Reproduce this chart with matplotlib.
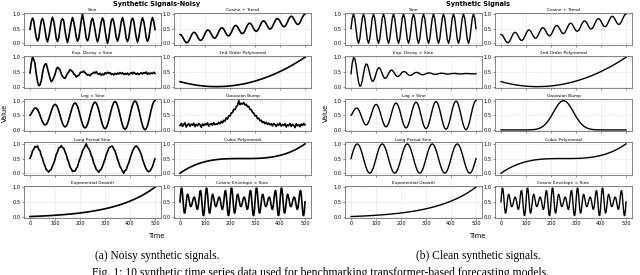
import numpy as np
import matplotlib.pyplot as plt

# ---------------- DATA ----------------
TIME_FINE = np.arange(0, 501, 5)        # 101 samples
TIME_COARSE = np.arange(0, 501, 10)     # 51 samples
TIME_DENSE = np.arange(0, 500.1, 2.5)   # 201 samples

SINE_CLEAN = [
    0.5, 0.854, 1.0, 0.854, 0.5, 0.146, 0.0, 0.146,
    0.5, 0.854, 1.0, 0.854, 0.5, 0.146, 0.0, 0.146,
    0.5, 0.854, 1.0, 0.854, 0.5, 0.146, 0.0, 0.146,
    0.5, 0.854, 1.0, 0.854, 0.5, 0.146, 0.0, 0.146,
    0.5, 0.854, 1.0, 0.854, 0.5, 0.146, 0.0, 0.146,
    0.5, 0.854, 1.0, 0.854, 0.5, 0.146, 0.0, 0.146,
    0.5, 0.854, 1.0, 0.854, 0.5, 0.146, 0.0, 0.146,
    0.5, 0.854, 1.0, 0.854, 0.5, 0.146, 0.0, 0.146,
    0.5, 0.854, 1.0, 0.854, 0.5, 0.146, 0.0, 0.146,
    0.5, 0.854, 1.0, 0.854, 0.5, 0.146, 0.0, 0.146,
    0.5, 0.854, 1.0, 0.854, 0.5, 0.146, 0.0, 0.146,
    0.5, 0.854, 1.0, 0.854, 0.5, 0.146, 0.0, 0.146,
    0.5, 0.854, 1.0, 0.854, 0.5,
]
SINE_NOISY = [
    0.48, 0.73, 0.86, 0.77, 0.45, 0.20, 0.08, 0.17,
    0.49, 0.76, 0.85, 0.72, 0.46, 0.18, 0.05, 0.21,
    0.46, 0.74, 0.89, 0.74, 0.48, 0.16, 0.06, 0.18,
    0.50, 0.77, 0.84, 0.76, 0.44, 0.19, 0.03, 0.20,
    0.47, 0.72, 0.88, 0.73, 0.49, 0.21, 0.07, 0.16,
    0.45, 0.78, 1.00, 0.75, 0.47, 0.17, 0.08, 0.19,
    0.48, 0.75, 0.86, 0.71, 0.46, 0.20, 0.05, 0.18,
    0.47, 0.73, 0.87, 0.77, 0.45, 0.18, 0.00, 0.17,
    0.49, 0.76, 0.85, 0.74, 0.48, 0.19, 0.07, 0.21,
    0.44, 0.74, 0.88, 0.72, 0.47, 0.16, 0.06, 0.18,
    0.48, 0.77, 0.86, 0.76, 0.46, 0.20, 0.04, 0.19,
    0.47, 0.72, 0.87, 0.75, 0.49, 0.18, 0.07, 0.17,
    0.46, 0.75, 0.88, 0.74, 0.47,
]
COS_TREND = [
    0.300, 0.282, 0.222, 0.141, 0.066, 0.023, 0.027, 0.079, 0.166, 0.262,
    0.339, 0.377, 0.364, 0.308, 0.228, 0.151, 0.103, 0.102, 0.149, 0.233,
    0.329, 0.410, 0.453, 0.446, 0.394, 0.315, 0.236, 0.184, 0.177, 0.220,
    0.301, 0.397, 0.481, 0.528, 0.527, 0.479, 0.402, 0.322, 0.266, 0.253,
    0.291, 0.368, 0.464, 0.551, 0.603, 0.607, 0.564, 0.489, 0.408, 0.348,
    0.330, 0.362, 0.436, 0.531, 0.620, 0.677, 0.687, 0.649, 0.576, 0.494,
    0.431, 0.407, 0.434, 0.504, 0.598, 0.689, 0.751, 0.766, 0.733, 0.663,
    0.581, 0.514, 0.485, 0.506, 0.572, 0.665, 0.758, 0.824, 0.845, 0.816,
    0.749, 0.667, 0.597, 0.564, 0.579, 0.641, 0.732, 0.826, 0.896, 0.923,
    0.899, 0.836, 0.754, 0.681, 0.643, 0.653, 0.710, 0.799, 0.894, 0.968,
    1.000,
]
EXP_DECAY_CLEAN = [
    0.440, 0.795, 0.987, 0.960, 0.746, 0.440, 0.163, 0.014, 0.036, 0.202,
    0.440, 0.655, 0.772, 0.755, 0.626, 0.440, 0.272, 0.182, 0.195, 0.295,
    0.440, 0.571, 0.641, 0.631, 0.552, 0.440, 0.338, 0.284, 0.291, 0.352,
    0.440, 0.519, 0.562, 0.556, 0.508, 0.440, 0.378, 0.345, 0.350, 0.387,
    0.440, 0.488, 0.513, 0.510, 0.481, 0.440, 0.402, 0.383, 0.385, 0.408,
    0.440, 0.469, 0.485, 0.483, 0.465, 0.440, 0.417, 0.405, 0.407, 0.421,
    0.440, 0.458, 0.468, 0.466, 0.455, 0.440, 0.426, 0.419, 0.420, 0.428,
    0.440, 0.451, 0.456, 0.456, 0.449, 0.440, 0.432, 0.427, 0.428, 0.433,
    0.440, 0.446, 0.450, 0.450, 0.446, 0.440, 0.435, 0.432, 0.432, 0.435,
    0.440, 0.444, 0.447, 0.447, 0.444, 0.440, 0.437, 0.435, 0.435, 0.437,
    0.440,
]
EXP_DECAY_NOISY = [
    0.47, 0.80, 1.00, 0.93, 0.77, 0.43, 0.18, 0.03, 0.06, 0.19,
    0.46, 0.67, 0.76, 0.78, 0.61, 0.45, 0.29, 0.17, 0.21, 0.31,
    0.42, 0.58, 0.66, 0.62, 0.57, 0.43, 0.35, 0.30, 0.28, 0.37,
    0.45, 0.50, 0.58, 0.54, 0.52, 0.43, 0.40, 0.33, 0.37, 0.38,
    0.46, 0.50, 0.49, 0.53, 0.47, 0.44, 0.39, 0.41, 0.37, 0.43,
    0.45, 0.49, 0.46, 0.51, 0.44, 0.42, 0.45, 0.39, 0.43, 0.40,
    0.47, 0.44, 0.49, 0.45, 0.48, 0.41, 0.44, 0.40, 0.45, 0.42,
    0.46, 0.43, 0.48, 0.44, 0.47, 0.41, 0.45, 0.42, 0.46, 0.40,
    0.44, 0.48, 0.43, 0.49, 0.45, 0.42, 0.46, 0.41, 0.44, 0.47,
    0.43, 0.48, 0.45, 0.50, 0.42, 0.46, 0.43, 0.47, 0.44, 0.49,
    0.45,
]
POLY2 = [
    0.170, 0.148, 0.127, 0.107, 0.090, 0.074, 0.059, 0.046, 0.035, 0.025,
    0.017, 0.010, 0.005, 0.002, 0.000, 0.000, 0.002, 0.005, 0.009, 0.015,
    0.023, 0.033, 0.044, 0.056, 0.071, 0.086, 0.104, 0.123, 0.143, 0.165,
    0.189, 0.215, 0.242, 0.270, 0.300, 0.332, 0.365, 0.400, 0.437, 0.475,
    0.515, 0.556, 0.599, 0.644, 0.690, 0.737, 0.787, 0.838, 0.890, 0.944,
    1.000,
]
LOG_SINE = [
    0.500, 0.555, 0.636, 0.706, 0.745, 0.742, 0.695, 0.610, 0.500, 0.382,
    0.277, 0.201, 0.169, 0.189, 0.257, 0.367, 0.500, 0.637, 0.757, 0.839,
    0.871, 0.847, 0.768, 0.646, 0.500, 0.351, 0.223, 0.135, 0.102, 0.129,
    0.214, 0.345, 0.500, 0.657, 0.793, 0.884, 0.918, 0.888, 0.798, 0.663,
    0.500, 0.336, 0.196, 0.101, 0.066, 0.097, 0.190, 0.332, 0.500, 0.670,
    0.814, 0.912, 0.948, 0.915, 0.819, 0.673, 0.500, 0.326, 0.178, 0.077,
    0.041, 0.075, 0.173, 0.323, 0.500, 0.678, 0.830, 0.932, 0.969, 0.934,
    0.833, 0.681, 0.500, 0.318, 0.163, 0.059, 0.022, 0.057, 0.161, 0.316,
    0.500, 0.685, 0.842, 0.948, 0.986, 0.950, 0.845, 0.687, 0.500, 0.312,
    0.152, 0.045, 0.007, 0.044, 0.150, 0.310, 0.500, 0.691, 0.852, 0.961,
    1.000,
]
GAUSS_CLEAN = [
    0.000, 0.000, 0.000, 0.000, 0.000, 0.000, 0.000, 0.000, 0.000, 0.000,
    0.001, 0.002, 0.005, 0.011, 0.023, 0.044, 0.080, 0.135, 0.216, 0.325,
    0.458, 0.607, 0.755, 0.882, 0.969, 1.000, 0.969, 0.882, 0.755, 0.607,
    0.458, 0.325, 0.216, 0.135, 0.080, 0.044, 0.023, 0.011, 0.005, 0.002,
    0.001, 0.000, 0.000, 0.000, 0.000, 0.000, 0.000, 0.000, 0.000, 0.000,
    0.000,
]
GAUSS_NOISY = [
    0.15, 0.22, 0.12, 0.19, 0.24, 0.10, 0.17, 0.21, 0.13, 0.20,
    0.16, 0.23, 0.11, 0.19, 0.14, 0.22, 0.18, 0.09, 0.20, 0.15,
    0.21, 0.17, 0.24, 0.13, 0.19, 0.22, 0.16, 0.25, 0.18, 0.21,
    0.19, 0.26, 0.21, 0.29, 0.24, 0.33, 0.30, 0.41, 0.37, 0.49,
    0.47, 0.58, 0.59, 0.70, 0.69, 0.79, 0.83, 1.00, 0.86, 0.91,
    0.88, 0.93, 0.85, 0.87, 0.79, 0.80, 0.70, 0.69, 0.60, 0.57,
    0.48, 0.49, 0.38, 0.40, 0.31, 0.33, 0.25, 0.28, 0.21, 0.26,
    0.19, 0.23, 0.17, 0.21, 0.14, 0.22, 0.18, 0.12, 0.20, 0.16,
    0.23, 0.13, 0.19, 0.15, 0.21, 0.10, 0.18, 0.14, 0.22, 0.12,
    0.19, 0.16, 0.08, 0.21, 0.14, 0.18, 0.11, 0.20, 0.15, 0.22,
    0.17,
]
LONG_SINE_CLEAN = [
    0.5, 0.655, 0.794, 0.905, 0.976, 1.0, 0.976, 0.905, 0.794, 0.655,
    0.5, 0.345, 0.206, 0.095, 0.024, 0.0, 0.024, 0.095, 0.206, 0.345,
    0.5, 0.655, 0.794, 0.905, 0.976, 1.0, 0.976, 0.905, 0.794, 0.655,
    0.5, 0.345, 0.206, 0.095, 0.024, 0.0, 0.024, 0.095, 0.206, 0.345,
    0.5, 0.655, 0.794, 0.905, 0.976, 1.0, 0.976, 0.905, 0.794, 0.655,
    0.5, 0.345, 0.206, 0.095, 0.024, 0.0, 0.024, 0.095, 0.206, 0.345,
    0.5, 0.655, 0.794, 0.905, 0.976, 1.0, 0.976, 0.905, 0.794, 0.655,
    0.5, 0.345, 0.206, 0.095, 0.024, 0.0, 0.024, 0.095, 0.206, 0.345,
    0.5, 0.655, 0.794, 0.905, 0.976, 1.0, 0.976, 0.905, 0.794, 0.655,
    0.5, 0.345, 0.206, 0.095, 0.024, 0.0, 0.024, 0.095, 0.206, 0.345,
    0.5,
]
LONG_SINE_NOISY = [
    0.51, 0.60, 0.76, 0.82, 0.91, 0.89, 0.93, 0.81, 0.76, 0.60,
    0.50, 0.34, 0.25, 0.12, 0.09, 0.04, 0.10, 0.13, 0.25, 0.34,
    0.47, 0.64, 0.72, 0.86, 0.88, 0.94, 0.87, 0.85, 0.73, 0.64,
    0.47, 0.37, 0.22, 0.15, 0.06, 0.08, 0.07, 0.16, 0.22, 0.38,
    0.50, 0.61, 0.77, 0.83, 0.92, 1.00, 0.88, 0.84, 0.75, 0.61,
    0.51, 0.34, 0.25, 0.13, 0.09, 0.03, 0.10, 0.14, 0.24, 0.36,
    0.48, 0.63, 0.73, 0.85, 0.89, 0.91, 0.92, 0.82, 0.76, 0.62,
    0.49, 0.36, 0.23, 0.16, 0.07, 0.00, 0.09, 0.12, 0.25, 0.35,
    0.50, 0.62, 0.75, 0.84, 0.90, 0.93, 0.89, 0.83, 0.74, 0.64,
    0.48, 0.35, 0.24, 0.14, 0.08, 0.05, 0.08, 0.15, 0.23, 0.37,
    0.49,
]
CUBIC = [
    0.000, 0.058, 0.111, 0.159, 0.204, 0.244, 0.281, 0.313, 0.343, 0.369,
    0.392, 0.412, 0.430, 0.445, 0.457, 0.468, 0.477, 0.484, 0.489, 0.493,
    0.496, 0.498, 0.499, 0.500, 0.500, 0.500, 0.500, 0.500, 0.501, 0.502,
    0.504, 0.507, 0.511, 0.516, 0.523, 0.532, 0.543, 0.555, 0.570, 0.588,
    0.608, 0.631, 0.657, 0.687, 0.719, 0.756, 0.796, 0.841, 0.889, 0.942,
    1.000,
]
EXP_GROWTH = [
    0.000, 0.003, 0.007, 0.010, 0.014, 0.018, 0.023, 0.027, 0.032, 0.037,
    0.043, 0.049, 0.055, 0.062, 0.069, 0.076, 0.084, 0.093, 0.102, 0.111,
    0.121, 0.132, 0.143, 0.155, 0.168, 0.182, 0.196, 0.212, 0.228, 0.245,
    0.264, 0.284, 0.304, 0.326, 0.350, 0.375, 0.401, 0.430, 0.459, 0.491,
    0.525, 0.561, 0.599, 0.639, 0.682, 0.727, 0.776, 0.827, 0.882, 0.940,
    1.000,
]
COS_ENV = [
    0.500, 0.793, 0.967, 0.957, 0.774, 0.500, 0.248, 0.115, 0.140, 0.293,
    0.500, 0.675, 0.758, 0.733, 0.631, 0.500, 0.392, 0.339, 0.349, 0.411,
    0.500, 0.589, 0.651, 0.661, 0.608, 0.500, 0.369, 0.267, 0.242, 0.325,
    0.500, 0.707, 0.860, 0.885, 0.752, 0.500, 0.226, 0.043, 0.033, 0.207,
    0.500, 0.793, 0.967, 0.957, 0.774, 0.500, 0.248, 0.115, 0.140, 0.293,
    0.500, 0.675, 0.758, 0.733, 0.631, 0.500, 0.392, 0.339, 0.349, 0.411,
    0.500, 0.589, 0.651, 0.661, 0.608, 0.500, 0.369, 0.267, 0.242, 0.325,
    0.500, 0.707, 0.860, 0.885, 0.752, 0.500, 0.226, 0.043, 0.033, 0.207,
    0.500, 0.793, 0.967, 0.957, 0.774, 0.500, 0.248, 0.115, 0.140, 0.293,
    0.500, 0.675, 0.758, 0.733, 0.631, 0.500, 0.392, 0.339, 0.349, 0.411,
    0.500, 0.589, 0.651, 0.661, 0.608, 0.500, 0.369, 0.267, 0.242, 0.325,
    0.500, 0.707, 0.860, 0.885, 0.752, 0.500, 0.226, 0.043, 0.033, 0.207,
    0.500, 0.793, 0.967, 0.957, 0.774, 0.500, 0.248, 0.115, 0.140, 0.293,
    0.500, 0.675, 0.758, 0.733, 0.631, 0.500, 0.392, 0.339, 0.349, 0.411,
    0.500, 0.589, 0.651, 0.661, 0.608, 0.500, 0.369, 0.267, 0.242, 0.325,
    0.500, 0.707, 0.860, 0.885, 0.752, 0.500, 0.226, 0.043, 0.033, 0.207,
    0.500, 0.793, 0.967, 0.957, 0.774, 0.500, 0.248, 0.115, 0.140, 0.293,
    0.500, 0.675, 0.758, 0.733, 0.631, 0.500, 0.392, 0.339, 0.349, 0.411,
    0.500, 0.589, 0.651, 0.661, 0.608, 0.500, 0.369, 0.267, 0.242, 0.325,
    0.500, 0.707, 0.860, 0.885, 0.752, 0.500, 0.226, 0.043, 0.033, 0.207,
    0.500,
]

TITLES = [
    "Sine", "Cosine + Trend",
    "Exp. Decay \u00d7 Sine", "2nd Order Polynomial",
    "Log \u00d7 Sine", "Gaussian Bump",
    "Long Period Sine", "Cubic Polynomial",
    "Exponential Growth", "Cosine Envelope \u00d7 Sine",
]
NOISY_SERIES = [
    (TIME_FINE, SINE_NOISY), (TIME_FINE, COS_TREND),
    (TIME_FINE, EXP_DECAY_NOISY), (TIME_COARSE, POLY2),
    (TIME_FINE, LOG_SINE), (TIME_FINE, GAUSS_NOISY),
    (TIME_FINE, LONG_SINE_NOISY), (TIME_COARSE, CUBIC),
    (TIME_COARSE, EXP_GROWTH), (TIME_DENSE, COS_ENV),
]
CLEAN_SERIES = [
    (TIME_FINE, SINE_CLEAN), (TIME_FINE, COS_TREND),
    (TIME_FINE, EXP_DECAY_CLEAN), (TIME_COARSE, POLY2),
    (TIME_FINE, LOG_SINE), (TIME_COARSE, GAUSS_CLEAN),
    (TIME_FINE, LONG_SINE_CLEAN), (TIME_COARSE, CUBIC),
    (TIME_COARSE, EXP_GROWTH), (TIME_DENSE, COS_ENV),
]

# ---------------- LAYOUT (pixels) ----------------
FIG_W, FIG_H = 640, 275
AX_W, AX_H = 137.5, 32.3
ROW_TOP = 12.5
ROW_STEP = 43.3

SANS = "DejaVu Sans"
SERIF = "Liberation Serif"


def px_rect(left, top, w, h):
    return [left / FIG_W, 1 - (top + h) / FIG_H, w / FIG_W, h / FIG_H]


def draw_group(fig, x0, series, suptitle, caption, lw):
    col_left = [x0 + 23.75, x0 + 173.75]
    for i, (t, y) in enumerate(series):
        row, col = divmod(i, 2)
        ax = fig.add_axes(px_rect(col_left[col], ROW_TOP + row * ROW_STEP, AX_W, AX_H))
        ax.plot(t, y, color="black", lw=lw)
        ax.set_ylim(-0.05, 1.05)
        ax.set_xlim(-25, 525)
        ax.set_yticks([0.0, 0.5, 1.0])
        ax.set_xticks([0, 100, 200, 300, 400, 500])
        ax.grid(True, color="#d9d9d9", lw=0.4, ls="--")
        ax.set_axisbelow(True)
        for s in ax.spines.values():
            s.set_color("#707070")
            s.set_linewidth(0.6)
        ax.tick_params(labelsize=3.6, length=1.5, width=0.4, pad=1,
                       colors="#333333", labelcolor="black")
        if row < 4:
            ax.tick_params(labelbottom=False)
        ax.set_title(TITLES[i], fontsize=3.2, pad=1.3, family=SANS)

    cx = x0 + 157
    fig.text(cx / FIG_W, 1 - 4 / FIG_H, suptitle, ha="center", va="center",
             fontsize=4.7, fontweight="bold", family=SANS)
    fig.text((x0 + 5) / FIG_W, 1 - 113 / FIG_H, "Value", rotation=90,
             ha="center", va="center", fontsize=4.8, family=SANS)
    fig.text(cx / FIG_W, 1 - 236 / FIG_H, "Time", ha="center", va="center",
             fontsize=4.8, family=SANS)
    fig.text(cx / FIG_W, 1 - 256 / FIG_H, caption, ha="center", va="center",
             fontsize=8.3, family=SERIF)


fig = plt.figure(figsize=(FIG_W / 100, FIG_H / 100), dpi=100)
draw_group(fig, 0, NOISY_SERIES, "Synthetic Signals-Noisy",
           "(a) Noisy synthetic signals.", 1.2)
draw_group(fig, 321, CLEAN_SERIES, "Synthetic Signals",
           "(b) Clean synthetic signals.", 1.0)
# the figure caption sits at the very bottom edge, as in the reference
fig.text(0.5, 1 - 276 / FIG_H,
         "Fig. 1: 10 synthetic time series data used for benchmarking "
         "transformer-based forecasting models.",
         ha="center", va="baseline", fontsize=8.4, family=SERIF)

fig.savefig("out.png", dpi=100)
